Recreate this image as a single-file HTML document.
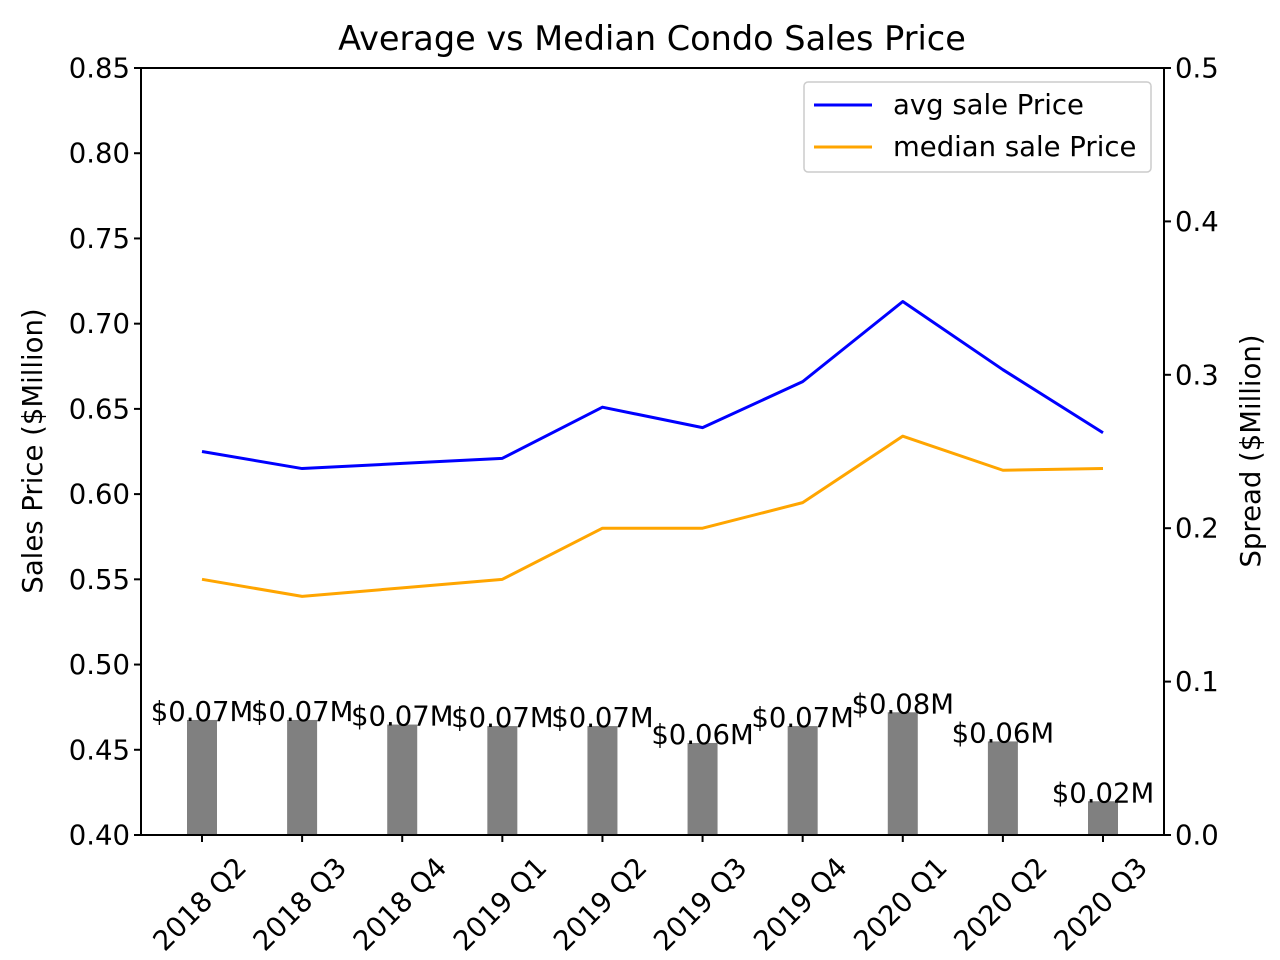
<!DOCTYPE html>
<html><head><meta charset="utf-8"><style>
body{margin:0;background:#fff}
svg{display:block;font-family:"DejaVu Sans","Liberation Sans",sans-serif}
</style></head><body>
<svg id="c" width="1280" height="960"></svg>
<script>
const categories=["2018 Q2","2018 Q3","2018 Q4","2019 Q1","2019 Q2","2019 Q3","2019 Q4","2020 Q1","2020 Q2","2020 Q3"];
const avgPrice=[0.625,0.615,0.618,0.621,0.651,0.639,0.666,0.713,0.673,0.636];
const medianPrice=[0.550,0.540,0.545,0.550,0.580,0.580,0.595,0.634,0.614,0.615];
const spread=[0.075,0.075,0.072,0.071,0.071,0.060,0.071,0.080,0.061,0.022];
const spreadLabels=["$0.07M","$0.07M","$0.07M","$0.07M","$0.07M","$0.06M","$0.07M","$0.08M","$0.06M","$0.02M"];
const leftTicks=[0.40,0.45,0.50,0.55,0.60,0.65,0.70,0.75,0.80,0.85];
const rightTicks=[0.0,0.1,0.2,0.3,0.4,0.5];

const svg=document.getElementById('c');const NS='http://www.w3.org/2000/svg';
const L=141,R=1164,T=68,B=835;
const FS=27.5;
const xs=i=>202+i*(1103-202)/(categories.length-1);
const yL=v=>B-(v-0.40)/(0.45)*(B-T);
const yR=v=>B-v/0.5*(B-T);
function mk(tag,a,txt){const e=document.createElementNS(NS,tag);for(const k in a)e.setAttribute(k,a[k]);if(txt!==undefined)e.textContent=txt;svg.appendChild(e);return e;}

spread.forEach((v,i)=>{
 const b=mk('rect',{x:xs(i)-15,y:yR(v),width:30,height:B-yR(v),fill:'#808080'});
 
 
 const t=mk('text',{x:xs(i),y:yR(v)+1,'font-size':FS,'text-anchor':'middle',fill:'#000'},spreadLabels[i]);
 
 
});
function line(arr,col,name){
 const p=mk('polyline',{points:arr.map((v,i)=>xs(i)+','+yL(v)).join(' '),fill:'none',stroke:col,'stroke-width':3,'stroke-linejoin':'round'});
 
 
}
line(avgPrice,'#0000ff','avg-price-line');
line(medianPrice,'#ffa500','median-price-line');

const f=mk('rect',{x:L,y:T,width:R-L,height:B-T,fill:'none',stroke:'#000','stroke-width':2});


leftTicks.forEach(v=>{const y=yL(v);mk('line',{x1:L-7,x2:L,y1:y,y2:y,stroke:'#000','stroke-width':2});
 const t=mk('text',{x:L-11,y:y+9.5,'font-size':FS,'text-anchor':'end'},v.toFixed(2));
 });
rightTicks.forEach(v=>{const y=yR(v);mk('line',{x1:R,x2:R+7,y1:y,y2:y,stroke:'#000','stroke-width':2});
 const t=mk('text',{x:R+11,y:y+9.5,'font-size':FS},v.toFixed(1));
 });
categories.forEach((c,i)=>{const x=xs(i);mk('line',{x1:x,x2:x,y1:B,y2:B+7,stroke:'#000','stroke-width':2});
 const ax=x+46,ay=B+34;
 const t=mk('text',{x:ax,y:ay,'font-size':FS,'text-anchor':'end',transform:`rotate(-45 ${ax} ${ay})`},c);
 });

let t=mk('text',{x:652,y:50,'font-size':33.5,'text-anchor':'middle'},'Average vs Median Condo Sales Price');

t=mk('text',{x:42,y:451,'font-size':FS,'text-anchor':'middle',transform:'rotate(-90 42 451)'},'Sales Price ($Million)');

t=mk('text',{x:1260,y:451,'font-size':FS,'text-anchor':'middle',transform:'rotate(-90 1260 451)'},'Spread ($Million)');


const lg=mk('rect',{x:804,y:82,width:347,height:90,rx:4,fill:'#fff','fill-opacity':0.8,stroke:'#ccc','stroke-width':1.5});

[['avg sale Price','#0000ff',105],['median sale Price','#ffa500',147]].forEach(([n,c,y])=>{
 mk('line',{x1:814,x2:872,y1:y,y2:y,stroke:c,'stroke-width':3});
 const e=mk('text',{x:893,y:y+9,'font-size':FS},n);
 
});
</script>
</body></html>
